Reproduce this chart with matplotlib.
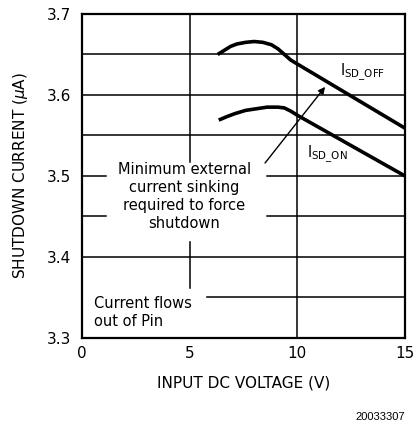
import numpy as np
import matplotlib.pyplot as plt

# input voltage (V) vs shutdown current (uA)
v_off = [6.3, 6.6, 6.9, 7.2, 7.6, 8.0, 8.4, 8.8, 9.1, 9.4, 9.7, 15.0]
i_off = [3.650, 3.655, 3.660, 3.663, 3.665, 3.666, 3.665, 3.662, 3.657, 3.650, 3.643, 3.559]
v_on = [6.35, 6.7, 7.1, 7.6, 8.1, 8.6, 9.1, 9.4, 9.7, 10.0, 15.0]
i_on = [3.569, 3.573, 3.577, 3.581, 3.583, 3.585, 3.585, 3.584, 3.580, 3.575, 3.500]

xticks = [0, 5, 10, 15]
yticks = [3.3, 3.4, 3.5, 3.6, 3.7]

# grid segments, broken where the notes sit
hgrid = [(3.65, 0, 15), (3.6, 0, 15), (3.55, 0, 15),
         (3.5, 0, 1.1), (3.5, 8.6, 15),
         (3.45, 0, 1.1), (3.45, 8.6, 15),
         (3.4, 0, 15), (3.35, 5.8, 15)]
vgrid = [(5, 3.517, 3.7), (5, 3.362, 3.418), (10, 3.3, 3.7)]

plt.rcParams['font.family'] = 'DejaVu Sans'
fig = plt.figure(figsize=(4.15, 4.33), dpi=100)
ax = fig.add_axes([0.1976, 0.2194, 0.7783, 0.7483])

for y, x0, x1 in hgrid:
    ax.plot([x0, x1], [y, y], color='black', lw=1.1)
for x, y0, y1 in vgrid:
    ax.plot([x, x], [y0, y1], color='black', lw=1.1)

ax.plot(v_off, i_off, color='black', lw=2.6, solid_capstyle='butt', solid_joinstyle='round')
ax.plot(v_on, i_on, color='black', lw=2.6, solid_capstyle='butt', solid_joinstyle='round')

ax.set_xlim(0, 15)
ax.set_ylim(3.3, 3.7)
ax.set_xticks(xticks)
ax.set_xticklabels([str(t) for t in xticks])
ax.set_yticks(yticks)
ax.set_yticklabels(['%.1f' % t for t in yticks])
ax.tick_params(length=0, labelsize=11)
ax.tick_params(axis='x', pad=6)
ax.tick_params(axis='y', pad=8)
for s in ax.spines.values():
    s.set_linewidth(1.6)

ax.set_xlabel('INPUT DC VOLTAGE (V)', fontsize=11, labelpad=10)
ax.set_ylabel(r'SHUTDOWN CURRENT ($\mu$A)', fontsize=11, labelpad=12)

ax.text(12.0, 3.628, r'I$_{\mathrm{SD\_OFF}}$', fontsize=10.5, va='center')
ax.text(10.45, 3.526, r'I$_{\mathrm{SD\_ON}}$', fontsize=10.5, va='center')

ax.text(4.75, 3.475, 'Minimum external\ncurrent sinking\nrequired to force\nshutdown',
        fontsize=10.5, ha='center', va='center', linespacing=1.25)
ax.text(0.56, 3.332, 'Current flows\nout of Pin', fontsize=10.5,
        ha='left', va='center', linespacing=1.25)

ax.annotate('', xy=(11.29, 3.61), xytext=(8.5, 3.516),
            arrowprops=dict(arrowstyle='-|>', color='black', lw=1.0,
                            mutation_scale=10, shrinkA=0, shrinkB=0))

fig.text(0.976, 0.025, '20033307', ha='right', va='bottom',
         fontsize=8, family='Liberation Sans')

plt.savefig('out.png', dpi=100)
